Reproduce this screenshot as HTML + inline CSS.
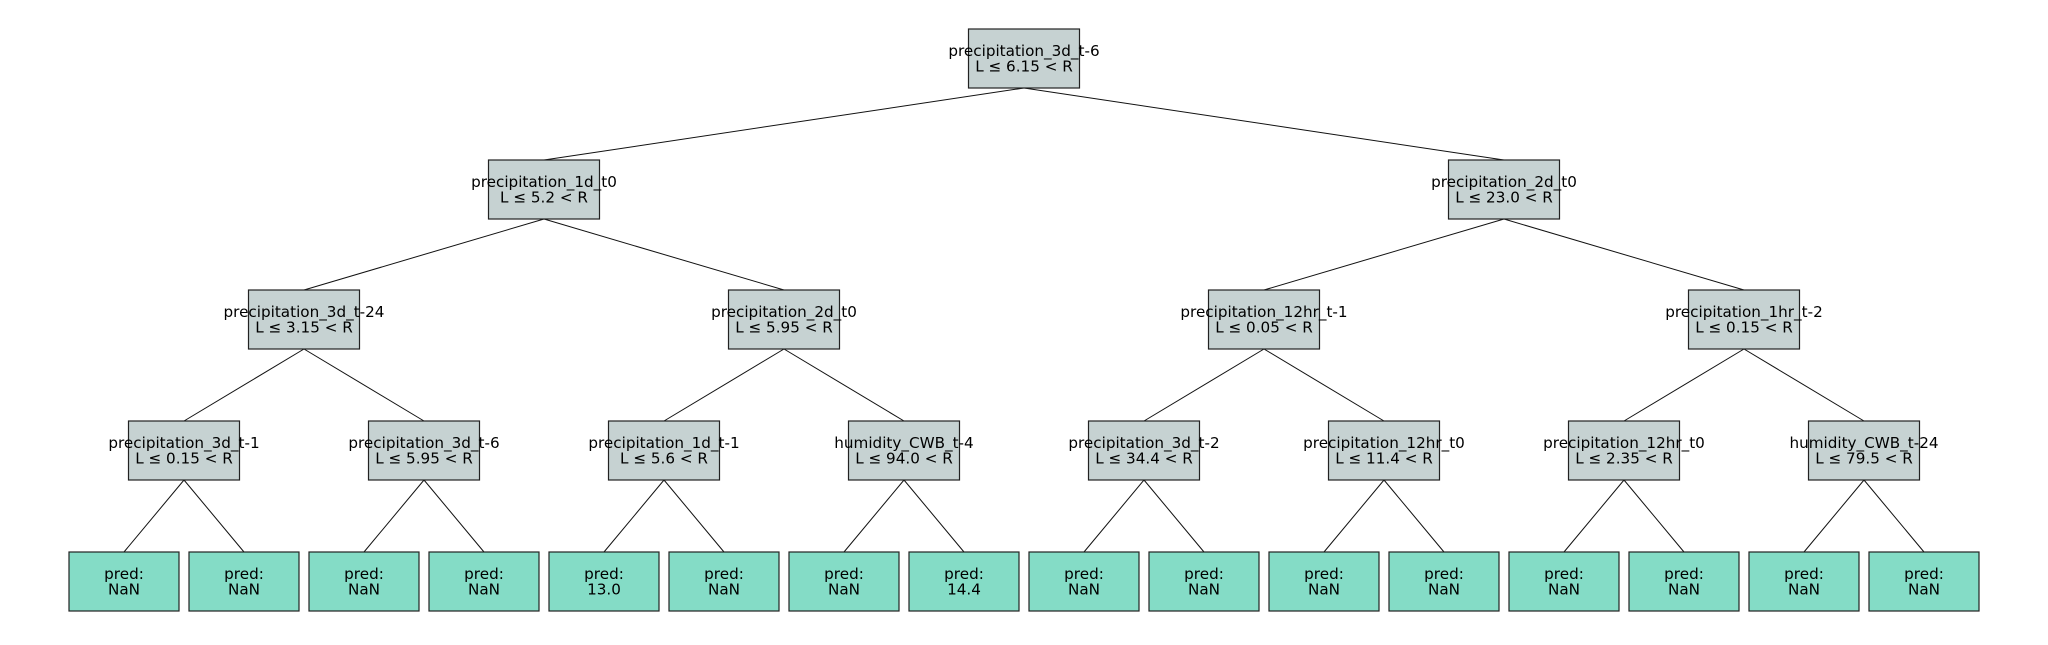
<!DOCTYPE html>
<html><head><meta charset="utf-8"><style>
html,body{margin:0;padding:0;background:#fff;}
svg text{font-family:"DejaVu Sans","Liberation Sans",sans-serif;font-size:15.2px;fill:#000;}
</style></head><body>
<svg id="s" width="2048" height="640" xmlns="http://www.w3.org/2000/svg"></svg>
<script>
const s=document.getElementById('s');
const NS='http://www.w3.org/2000/svg';
const rows=[29,160,290,421,552];
const H=59;
const labels=[
 ["precipitation_3d_t-6","L ≤ 6.15 < R"],
 ["precipitation_1d_t0","L ≤ 5.2 < R"],["precipitation_2d_t0","L ≤ 23.0 < R"],
 ["precipitation_3d_t-24","L ≤ 3.15 < R"],["precipitation_2d_t0","L ≤ 5.95 < R"],["precipitation_12hr_t-1","L ≤ 0.05 < R"],["precipitation_1hr_t-2","L ≤ 0.15 < R"],
 ["precipitation_3d_t-1","L ≤ 0.15 < R"],["precipitation_3d_t-6","L ≤ 5.95 < R"],["precipitation_1d_t-1","L ≤ 5.6 < R"],["humidity_CWB_t-4","L ≤ 94.0 < R"],
 ["precipitation_3d_t-2","L ≤ 34.4 < R"],["precipitation_12hr_t0","L ≤ 11.4 < R"],["precipitation_12hr_t0","L ≤ 2.35 < R"],["humidity_CWB_t-24","L ≤ 79.5 < R"]
];
const leaves=["NaN","NaN","NaN","NaN","13.0","NaN","NaN","14.4","NaN","NaN","NaN","NaN","NaN","NaN","NaN","NaN"];
function cx(level,i){const span=120*Math.pow(2,4-level);return 64+span*i+span/2;}
function el(t,a,txt){const e=document.createElementNS(NS,t);for(const k in a)e.setAttribute(k,a[k]);if(txt!==undefined)e.textContent=txt;s.appendChild(e);return e;}
for(let l=0;l<4;l++){const n=Math.pow(2,l);for(let i=0;i<n;i++){const x=cx(l,i),y=rows[l]+H;for(const c of [2*i,2*i+1]){el('line',{x1:x,y1:y,x2:cx(l+1,c),y2:rows[l+1],stroke:'#111','stroke-width':1});}}}
let k=0;
for(let l=0;l<5;l++){const n=Math.pow(2,l);for(let i=0;i<n;i++){const x=cx(l,i),y=rows[l];
 const leaf=l==4;const w=leaf?110:111;
 el('rect',{x:x-w/2,y:y,width:w,height:H,fill:leaf?'#84dcc6':'#c6d2d2',stroke:'#222','stroke-width':1.2});
 const t=leaf?["pred:",leaves[i]]:labels[k++];
 el('text',{x:x,y:y+H/2-7.5,'text-anchor':'middle','dominant-baseline':'central'},t[0]);
 el('text',{x:x,y:y+H/2+8,'text-anchor':'middle','dominant-baseline':'central'},t[1]);
}}
</script>
</body></html>
